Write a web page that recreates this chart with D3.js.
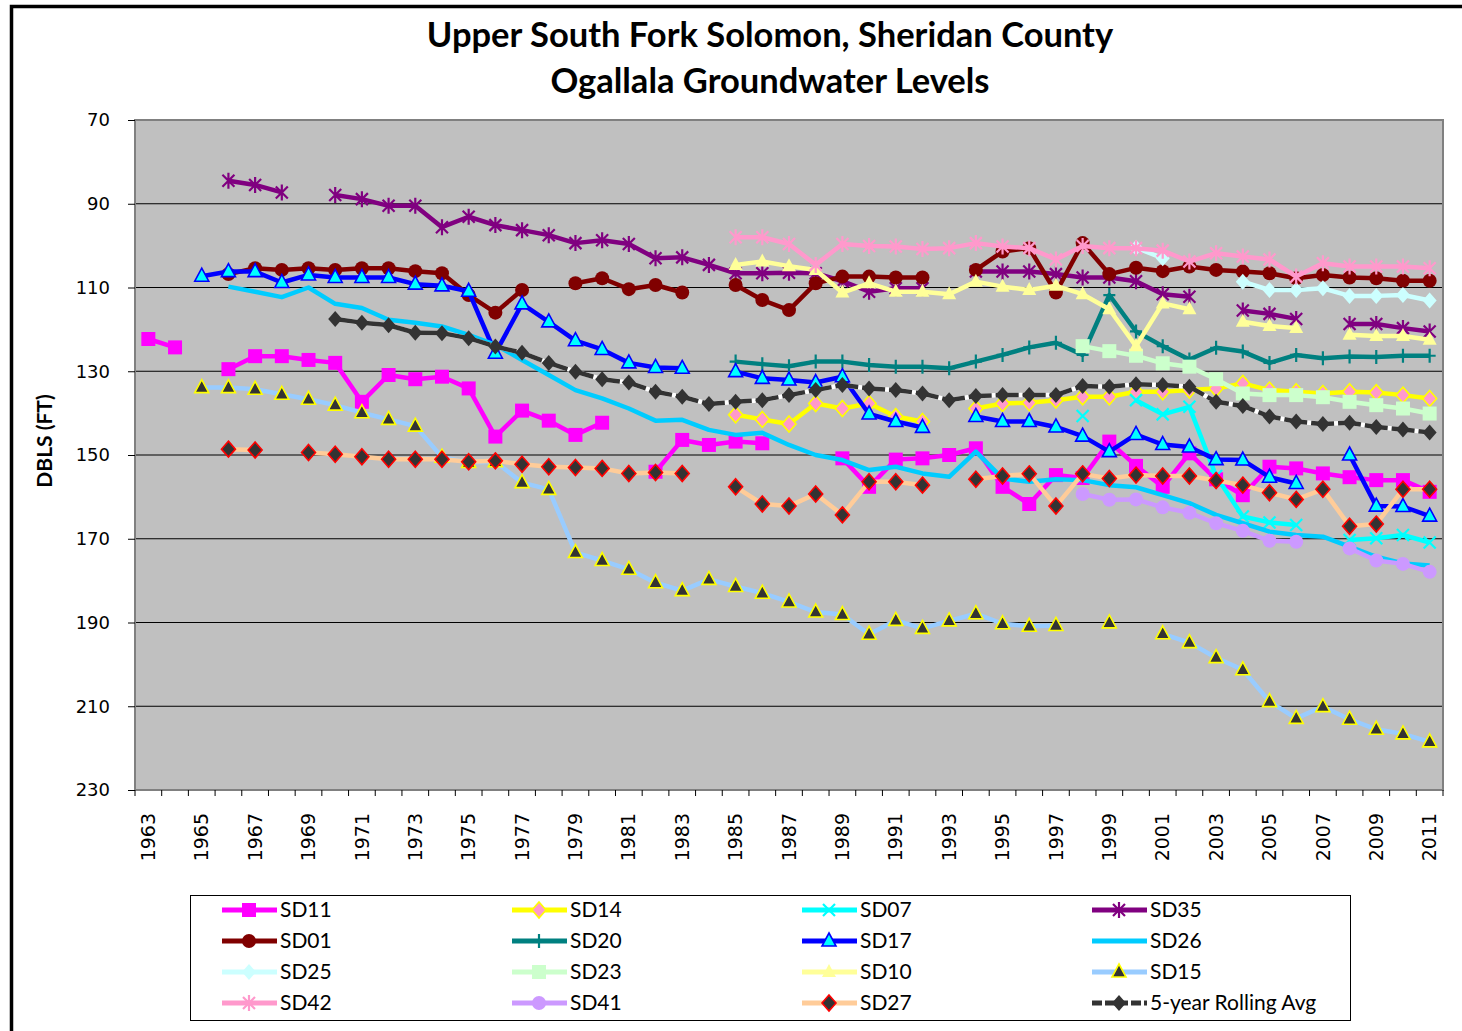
<!DOCTYPE html>
<html>
<head>
<meta charset="utf-8">
<script src="https://cdn.jsdelivr.net/npm/d3@7/dist/d3.min.js"></script>
<style>
body { margin: 0; background: #fff; }
</style>
</head>
<body>
<svg id="chart"></svg>
<script>
var _ = null;

var years = [1963, 1964, 1965, 1966, 1967, 1968, 1969, 1970, 1971, 1972,
	1973, 1974, 1975, 1976, 1977, 1978, 1979, 1980, 1981, 1982,
	1983, 1984, 1985, 1986, 1987, 1988, 1989, 1990, 1991, 1992,
	1993, 1994, 1995, 1996, 1997, 1998, 1999, 2000, 2001, 2002,
	2003, 2004, 2005, 2006, 2007, 2008, 2009, 2010, 2011];
var yearLabels = ["1963", "1965", "1967", "1969", "1971", "1973", "1975", "1977", "1979", "1981",
	"1983", "1985", "1987", "1989", "1991", "1993", "1995", "1997", "1999", "2001",
	"2003", "2005", "2007", "2009", "2011"];
var depthTicks = [70, 90, 110, 130, 150, 170, 190, 210, 230];

// depth below land surface (ft), one value per year, null = no reading
var sd11 = [122.3, 124.3, _, 129.5, 126.4, 126.4, 127.3, 128.0, 137.3, 130.9,
	131.9, 131.3, 134.1, 145.6, 139.4, 141.8, 145.2, 142.3, _, 154.0,
	146.4, 147.6, 146.8, 147.2, _, _, 150.8, 157.6, 151.1, 150.8,
	150.0, 148.4, 157.6, 161.7, 154.8, 155.5, 146.8, 152.6, 157.6, 149.6,
	155.8, 159.6, 152.8, 153.2, 154.4, 155.3, 156.0, 156.0, 158.8];
var sd14 = [_, _, _, _, _, _, _, _, _, _,
	_, _, _, _, _, _, _, _, _, _,
	_, _, 140.4, 141.5, 142.6, 137.7, 138.9, 137.7, 140.8, 142.0,
	_, 138.9, 137.7, 137.5, 136.9, 136.1, 136.1, 134.9, 134.9, 134.5,
	134.1, 132.9, 134.5, 134.9, 135.3, 134.9, 135.1, 135.7, 136.5];
var sd07 = [_, _, _, _, _, _, _, _, _, _,
	_, _, _, _, _, _, _, _, _, _,
	_, _, _, _, _, _, _, _, _, _,
	_, _, _, _, _, 140.7, _, 136.9, 140.3, 138.5,
	155.0, 164.7, 166.1, 166.7, _, 170.3, 169.9, 169.1, 170.9];
var sd35 = [_, _, _, 84.5, 85.5, 87.3, _, 87.9, 88.9, 90.5,
	90.5, 95.6, 93.1, 95.1, 96.3, 97.5, 99.4, 98.7, 99.6, 103.0,
	102.8, 104.6, 106.6, 106.6, 106.5, 106.6, 108.5, 111.0, 110.2, 110.2,
	_, 106.2, 106.2, 106.2, 106.8, 107.6, 107.6, 108.5, 111.6, 112.2,
	_, 115.5, 116.3, 117.5, _, 118.7, 118.7, 119.7, 120.5];
var sd01 = [_, _, _, 106.8, 105.4, 105.8, 105.4, 105.8, 105.4, 105.4,
	106.1, 106.6, 111.8, 116.0, 110.6, _, 109.0, 107.8, 110.4, 109.4,
	111.2, _, 109.4, 113.0, 115.4, 109.0, 107.4, 107.4, 107.6, 107.6,
	_, 105.8, 101.4, 100.6, 111.2, 99.4, 106.8, 105.3, 106.1, 105.0,
	105.8, 106.2, 106.6, 107.8, 107.0, 107.6, 107.8, 108.4, 108.4];
var sd20 = [_, _, _, _, _, _, _, _, _, _,
	_, _, _, _, _, _, _, _, _, _,
	_, _, 127.7, 128.3, 128.8, 127.7, 127.7, 128.5, 128.9, 128.9,
	129.3, 127.7, 126.1, 124.3, 123.2, 126.1, 111.8, 120.5, 124.0, 127.2,
	124.4, 125.3, 128.0, 126.1, 126.9, 126.5, 126.6, 126.3, 126.3];
var sd17 = [_, _, 107.3, 106.2, 106.2, 108.8, 107.0, 107.6, 107.6, 107.6,
	109.2, 109.6, 110.9, 125.7, 113.9, 118.2, 122.7, 124.8, 128.0, 129.1,
	129.3, _, 130.1, 131.7, 132.1, 132.7, 131.3, 140.2, 142.0, 143.4,
	_, 140.8, 142.0, 142.0, 143.3, 145.5, 149.2, 145.1, 147.5, 148.1,
	151.1, 151.2, 155.3, 156.8, _, 150.0, 162.2, 162.3, 164.6];
var sd26 = [_, _, _, 109.8, 111.0, 112.3, 110.0, 113.9, 114.9, 117.7,
	118.4, 119.3, 121.3, 123.7, 127.3, 130.9, 134.5, 136.5, 138.9, 141.8,
	141.6, 144.0, 145.2, 144.7, 147.6, 150.0, 151.2, 153.6, 152.8, 154.4,
	155.2, 149.2, 155.6, 156.4, 155.8, 156.0, 157.2, 157.7, 159.6, 161.5,
	164.3, 166.3, 168.3, 169.1, 169.5, 171.9, 174.3, 175.9, 176.4];
var sd25 = [_, _, _, _, _, _, _, _, _, _,
	_, _, _, _, _, _, _, _, _, _,
	_, _, _, _, _, _, _, _, _, _,
	_, _, _, _, _, _, _, 100.5, 103.0, _,
	_, 108.6, 110.6, 110.6, 110.2, 112.0, 112.0, 111.8, 113.1];
var sd23 = [_, _, _, _, _, _, _, _, _, _,
	_, _, _, _, _, _, _, _, _, _,
	_, _, _, _, _, _, _, _, _, _,
	_, _, _, _, _, 124.0, 125.2, 126.3, 128.1, 128.9,
	131.9, 135.3, 135.7, 135.7, 136.2, 137.3, 138.1, 138.9, 140.1];
var sd10 = [_, _, _, _, _, _, _, _, _, _,
	_, _, _, _, _, _, _, _, _, _,
	_, _, 104.6, 103.8, 104.9, 105.8, 111.2, 109.0, 111.0, 111.0,
	111.6, 108.6, 109.8, 110.6, 109.6, 111.6, 115.2, 124.0, 113.8, 115.2,
	_, 118.2, 119.2, 119.7, _, 121.3, 121.6, 121.6, 122.5];
var sd15 = [_, _, 133.9, 133.9, 134.3, 135.5, 136.7, 138.1, 139.9, 141.5,
	143.1, 150.5, 151.8, 151.6, 156.6, 158.2, 173.3, 175.2, 177.3, 180.5,
	182.4, 179.7, 181.4, 183.0, 185.1, 187.5, 188.1, 192.8, 189.5, 191.4,
	189.6, 187.9, 190.3, 190.9, 190.7, _, 190.1, _, 192.7, 194.8,
	198.4, 201.3, 208.9, 212.9, 210.1, 213.1, 215.5, 216.6, 218.5];
var sd42 = [_, _, _, _, _, _, _, _, _, _,
	_, _, _, _, _, _, _, _, _, _,
	_, _, 98.0, 98.0, 99.6, 104.6, 99.6, 100.1, 100.2, 100.8,
	100.6, 99.4, 100.2, 100.6, 103.3, 100.1, 100.6, 100.6, 101.2, 103.8,
	101.8, 102.6, 103.3, 107.4, 104.2, 105.0, 105.0, 105.0, 105.4];
var sd41 = [_, _, _, _, _, _, _, _, _, _,
	_, _, _, _, _, _, _, _, _, _,
	_, _, _, _, _, _, _, _, _, _,
	_, _, _, _, _, 159.3, 160.7, 160.6, 162.5, 163.8,
	166.3, 168.1, 170.5, 170.7, _, 172.3, 175.2, 176.0, 177.9];
var sd27 = [_, _, _, 148.6, 148.8, _, 149.4, 149.8, 150.4, 151.0,
	151.0, 151.0, 151.6, 151.4, 152.2, 152.8, 153.0, 153.2, 154.4, 154.2,
	154.4, _, 157.6, 161.7, 162.2, 159.3, 164.3, 156.4, 156.4, 157.2,
	_, 155.8, 155.0, 154.5, 162.2, 154.5, 155.6, 154.8, 155.0, 155.0,
	156.1, 157.2, 159.0, 160.6, 158.2, 167.0, 166.5, 158.2, 158.2];
var rollingAvg = [_, _, _, _, _, _, _, 117.5, 118.4, 119.0,
	120.8, 120.9, 122.1, 124.1, 125.6, 128.0, 130.1, 131.9, 132.7, 134.9,
	136.1, 137.8, 137.3, 136.9, 135.7, 134.5, 133.3, 134.1, 134.5, 135.3,
	136.9, 135.9, 135.7, 135.7, 135.7, 133.5, 133.7, 133.1, 133.3, 133.7,
	137.3, 138.3, 140.8, 142.0, 142.6, 142.3, 143.3, 143.9, 144.6];

var seriesNames = ["SD11", "SD14", "SD07", "SD35", "SD01", "SD20", "SD17", "SD26",
	"SD25", "SD23", "SD10", "SD15", "SD42", "SD41", "SD27", "5-year Rolling Avg"];
var seriesValues = [sd11, sd14, sd07, sd35, sd01, sd20, sd17, sd26,
	sd25, sd23, sd10, sd15, sd42, sd41, sd27, rollingAvg];

// look of each series, same order as seriesNames
var styles = [
	{ line: "#FF00FF", marker: "square", fill: "#FF00FF" },
	{ line: "#FFFF00", marker: "diamond", fill: "#FF99CC", stroke: "#FFFF00" },
	{ line: "#00FFFF", marker: "x", stroke: "#00FFFF" },
	{ line: "#800080", marker: "star", stroke: "#800080" },
	{ line: "#800000", marker: "circle", fill: "#800000" },
	{ line: "#008080", marker: "plus", stroke: "#008080" },
	{ line: "#0000FF", marker: "triangle", fill: "#00FFFF", stroke: "#0000FF" },
	{ line: "#00CCFF", marker: "none" },
	{ line: "#CCFFFF", marker: "diamond", fill: "#CCFFFF" },
	{ line: "#CCFFCC", marker: "square", fill: "#CCFFCC" },
	{ line: "#FFFF99", marker: "triangle", fill: "#FFFF99" },
	{ line: "#99CCFF", marker: "triangle", fill: "#333333", stroke: "#FFFF00" },
	{ line: "#FF99CC", marker: "star", stroke: "#FF99CC" },
	{ line: "#CC99FF", marker: "circle", fill: "#CC99FF" },
	{ line: "#FFCC99", marker: "diamond", fill: "#333333", stroke: "#FF0000" },
	{ line: "#333333", marker: "diamond", fill: "#333333", dashed: true }
];

var W = 1462, H = 1031;
var plot = { left: 135, right: 1443, top: 120, bottom: 790 };

var svg = d3.select('#chart')
	.attr('width', W)
	.attr('height', H)
	.style('font-family', 'Lato, "Open Sans", sans-serif');

// chart frame
svg.append('rect')
	.attr('x', 11.5).attr('y', 6.5)
	.attr('width', W + 20).attr('height', H + 20)
	.attr('fill', '#fff')
	.attr('stroke', '#000')
	.attr('stroke-width', 3.5);

svg.append('text')
	.attr('x', 770).attr('y', 47)
	.attr('text-anchor', 'middle')
	.attr('font-weight', 'bold')
	.attr('font-size', 34.5)
	.text('Upper South Fork Solomon, Sheridan County');
svg.append('text')
	.attr('x', 770).attr('y', 93)
	.attr('text-anchor', 'middle')
	.attr('font-weight', 'bold')
	.attr('font-size', 34.5)
	.text('Ogallala Groundwater Levels');

var x = d3.scaleBand()
	.domain(years)
	.range([plot.left, plot.right])
	.padding(0);

var y = d3.scaleLinear()
	.domain([70, 230])
	.range([plot.top, plot.bottom]);

var cx = function(i) { return x(years[i]) + x.bandwidth() / 2; };

svg.append('rect')
	.attr('x', plot.left).attr('y', plot.top)
	.attr('width', plot.right - plot.left)
	.attr('height', plot.bottom - plot.top)
	.attr('fill', '#C0C0C0');

// gridlines
svg.append('g').selectAll('line')
	.data(depthTicks.slice(1, -1))
	.enter().append('line')
	.attr('x1', plot.left).attr('x2', plot.right)
	.attr('y1', function(d) { return y(d); })
	.attr('y2', function(d) { return y(d); })
	.attr('stroke', '#000')
	.attr('stroke-width', 1.2);

svg.append('rect')
	.attr('x', plot.left).attr('y', plot.top)
	.attr('width', plot.right - plot.left)
	.attr('height', plot.bottom - plot.top)
	.attr('fill', 'none')
	.attr('stroke', '#808080')
	.attr('stroke-width', 2);

// y axis
var yAxis = d3.axisLeft(y)
	.tickValues(depthTicks)
	.tickSize(7)
	.tickPadding(18);
var gy = svg.append('g')
	.attr('transform', 'translate(' + plot.left + ',0)')
	.call(yAxis);
gy.select('.domain').remove();
gy.selectAll('line').attr('stroke', '#000');
gy.selectAll('text')
	.attr('font-family', '"DejaVu Sans", Verdana, sans-serif')
	.attr('font-size', 18)
	.attr('fill', '#000');

// x axis (labels on every second year)
var xAxis = d3.axisBottom(x)
	.tickValues(years.filter(function(d) { return yearLabels.indexOf(String(d)) >= 0; }))
	.tickSize(0)
	.tickPadding(0);
var gx = svg.append('g')
	.attr('transform', 'translate(0,' + plot.bottom + ')')
	.call(xAxis);
gx.select('.domain').remove();
gx.selectAll('text')
	.attr('font-family', '"DejaVu Sans", Verdana, sans-serif')
	.attr('font-size', 19)
	.attr('fill', '#000')
	.attr('transform', 'rotate(-90)')
	.attr('text-anchor', 'end')
	.attr('dy', '0.35em')
	.attr('x', -23)
	.attr('y', 0);
svg.append('g').selectAll('line')
	.data(years.concat([2012]))
	.enter().append('line')
	.attr('x1', function(d, i) { return plot.left + i * x.step(); })
	.attr('x2', function(d, i) { return plot.left + i * x.step(); })
	.attr('y1', plot.bottom).attr('y2', plot.bottom + 6)
	.attr('stroke', '#000');

svg.append('text')
	.attr('transform', 'translate(52,441) rotate(-90)')
	.attr('text-anchor', 'middle')
	.attr('font-weight', 'bold')
	.attr('font-size', 21)
	.text('DBLS (FT)');

var markerPath = function(type) {
	switch (type) {
		case 'square': return 'M-7,-7H7V7H-7Z';
		case 'circle': return 'M7,0A7,7 0 1,1 -7,0A7,7 0 1,1 7,0Z';
		case 'diamond': return 'M0,-8L7,0L0,8L-7,0Z';
		case 'triangle': return 'M0,-8L7,5L-7,5Z';
		case 'star': return 'M-6,-6L6,6M-6,6L6,-6M0,-8V8';
		case 'plus': return 'M0,-7V7M-6,0H6';
		case 'x': return 'M-6,-6L6,6M-6,6L6,-6';
	}
	return null;
};

var drawMarker = function(g, st, px, py) {
	var p = markerPath(st.marker);
	if (!p) return;
	var m = g.append('path')
		.attr('d', p)
		.attr('transform', 'translate(' + px + ',' + py + ')');
	if (st.marker == 'star' || st.marker == 'plus' || st.marker == 'x') {
		m.attr('fill', 'none').attr('stroke', st.stroke).attr('stroke-width', 2.2);
	} else {
		m.attr('fill', st.fill)
			.attr('stroke', st.stroke || 'none')
			.attr('stroke-width', 1.6);
	}
};

var line = d3.line()
	.defined(function(d) { return d != null; })
	.x(function(d, i) { return cx(i); })
	.y(function(d) { return y(d); });

var plotG = svg.append('g');

seriesValues.forEach(function(vals, s) {
	var st = styles[s];
	var g = plotG.append('g').attr('class', 'series');
	if (st.dashed) {
		g.append('path')
			.attr('d', line(vals))
			.attr('fill', 'none')
			.attr('stroke', '#fff')
			.attr('stroke-width', 4.5);
	}
	g.append('path')
		.attr('d', line(vals))
		.attr('fill', 'none')
		.attr('stroke', st.line)
		.attr('stroke-width', 4.5)
		.attr('stroke-linejoin', 'round')
		.attr('stroke-dasharray', st.dashed ? '23,4' : null);
	vals.forEach(function(v, i) {
		if (v == null) return;
		drawMarker(g, st, cx(i), y(v));
	});
});

// legend
var legend = svg.append('g');
legend.append('rect')
	.attr('x', 190.5).attr('y', 895.5)
	.attr('width', 1160).attr('height', 125)
	.attr('fill', '#fff')
	.attr('stroke', '#000')
	.attr('stroke-width', 1);

seriesNames.forEach(function(name, s) {
	var st = styles[s];
	var col = s % 4, row = Math.floor(s / 4);
	var lx = 222 + col * 290, ly = 910 + row * 31;
	var item = legend.append('g');
	if (st.dashed) {
		item.append('line')
			.attr('x1', lx).attr('x2', lx + 55)
			.attr('y1', ly).attr('y2', ly)
			.attr('stroke', '#fff').attr('stroke-width', 5);
	}
	item.append('line')
		.attr('x1', lx).attr('x2', lx + 55)
		.attr('y1', ly).attr('y2', ly)
		.attr('stroke', st.line)
		.attr('stroke-width', 5)
		.attr('stroke-dasharray', st.dashed ? '10,3' : null);
	drawMarker(item, st, lx + 27, ly);
	item.append('text')
		.attr('x', lx + 58).attr('y', ly)
		.attr('dy', '0.35em')
		.attr('font-size', 21)
		.text(name);
});
</script>
</body>
</html>
